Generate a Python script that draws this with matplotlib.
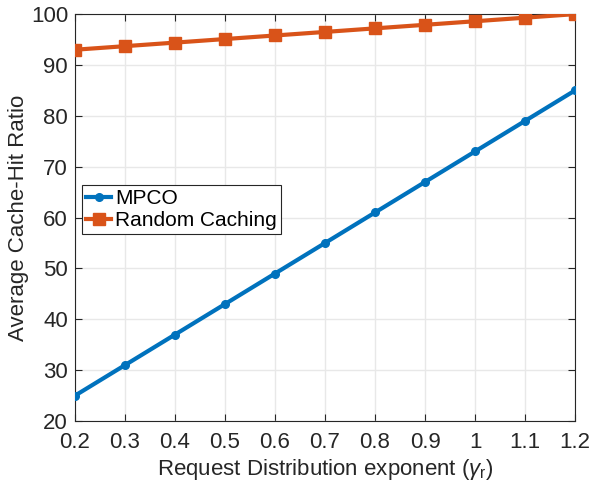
#!/usr/bin/env python3
"""Average cache-hit ratio vs request distribution exponent"""

import matplotlib
matplotlib.use('Agg')
import matplotlib.pyplot as plt

# Data
gamma_r = [0.2, 0.3, 0.4, 0.5, 0.6, 0.7, 0.8, 0.9, 1.0, 1.1, 1.2]
mpco = [25, 31, 37, 43, 49, 55, 61, 67, 73, 79, 85]
random_caching = [93, 93.7, 94.4, 95.1, 95.8, 96.5, 97.2, 97.9, 98.6, 99.3, 100]
x_ticks = [0.2, 0.3, 0.4, 0.5, 0.6, 0.7, 0.8, 0.9, 1.0, 1.1, 1.2]
x_ticklabels = ['0.2', '0.3', '0.4', '0.5', '0.6', '0.7', '0.8', '0.9', '1', '1.1', '1.2']
y_ticks = [20, 30, 40, 50, 60, 70, 80, 90, 100]

plt.rcParams['font.family'] = ['Liberation Sans', 'DejaVu Sans']
plt.rcParams['mathtext.fontset'] = 'custom'
plt.rcParams['mathtext.rm'] = 'Liberation Sans'
plt.rcParams['mathtext.it'] = 'Liberation Sans:italic'

fig = plt.figure(figsize=(5.91, 4.87), dpi=100)
ax = fig.add_axes([0.127, 0.1355, 0.846, 0.8355])

ax.plot(gamma_r, mpco, '-o', color='#0072BD', linewidth=3, markersize=5.5,
        label='MPCO', zorder=3)
ax.plot(gamma_r, random_caching, '-s', color='#D95319', linewidth=3, markersize=8,
        label='Random Caching', zorder=3)

ax.set_xlim(0.2, 1.2)
ax.set_ylim(20, 100)
ax.set_xticks(x_ticks)
ax.set_xticklabels(x_ticklabels)
ax.set_yticks(y_ticks)
ax.tick_params(direction='in', top=True, right=True, labelsize=16,
               length=5, width=0.8, color='#262626', labelcolor='#262626')
ax.tick_params(axis='x', pad=8)
ax.tick_params(axis='y', pad=5)
ax.grid(True, color='#e8e8e8', linewidth=1)
ax.set_axisbelow(True)
for s in ax.spines.values():
    s.set_color('#262626')
    s.set_linewidth(0.8)

ax.set_xlabel(r'Request Distribution exponent ($\gamma_{\rm r}$)', fontsize=16,
              color='#262626', labelpad=3)
ax.set_ylabel('Average Cache-Hit Ratio', fontsize=16, color='#262626', labelpad=1)

leg = ax.legend(loc='upper left', bbox_to_anchor=(0.014, 0.58), fontsize=15,
                handlelength=1.2, handletextpad=0.2, borderpad=0.2, labelspacing=0.15,
                fancybox=False, edgecolor='#262626', framealpha=1, borderaxespad=0)
leg.get_frame().set_linewidth(0.8)

fig.savefig('out.png', dpi=100)
plt.close(fig)
